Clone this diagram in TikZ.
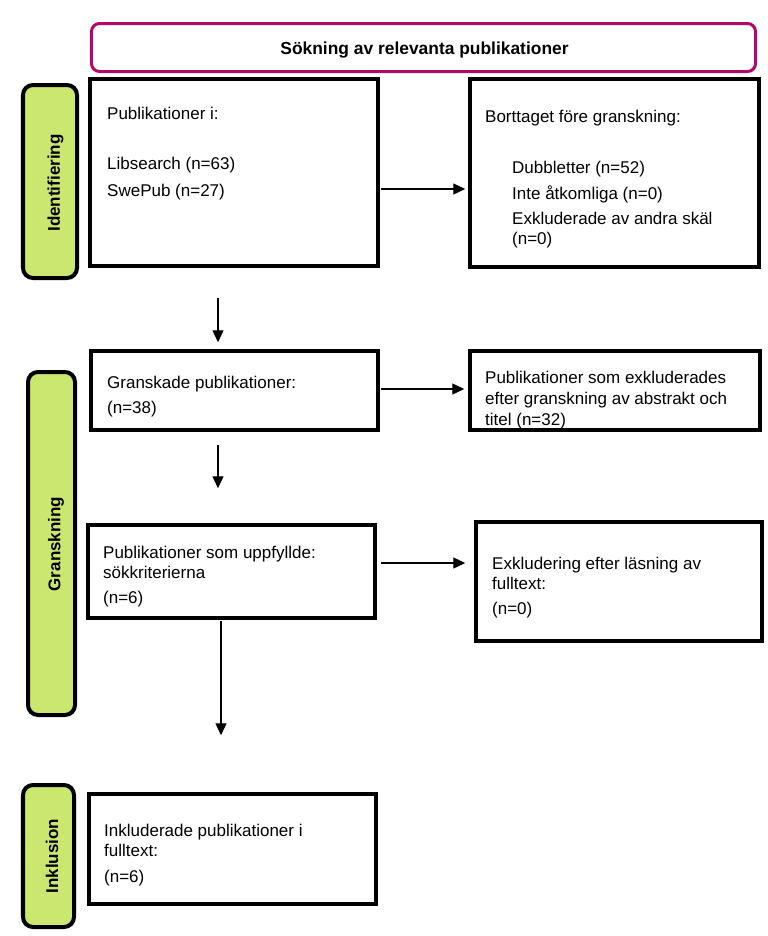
\documentclass[tikz,border=0pt]{standalone}
\usepackage{fontspec}
\setmainfont{Liberation Sans}
\usetikzlibrary{arrows.meta}
\definecolor{framemag}{RGB}{178,8,102}
\definecolor{phasegreen}{RGB}{204,231,112}
\tikzset{
  bodytext/.style={inner sep=0pt, anchor=base west, font=\fontsize{17bp}{20bp}\selectfont},
  titletext/.style={inner sep=0pt, anchor=base, font=\fontsize{17.4bp}{20bp}\selectfont\bfseries},
  phaselabel/.style={inner sep=0pt, rotate=90, font=\fontsize{17bp}{20bp}\selectfont\bfseries},
  stagebox/.style={draw=black, line width=3.5bp, rectangle, inner sep=0pt},
  titlebox/.style={draw=framemag, line width=3bp, rectangle, rounded corners=8bp, inner sep=0pt},
  phasebar/.style={draw=black, fill=phasegreen, line width=4bp, rectangle, rounded corners=10bp, inner sep=0pt},
  flowarrow/.style={line width=1.3bp, -{Triangle[length=12bp,width=11bp]}}
}
\begin{document}
\begin{tikzpicture}[x=1bp,y=-1bp]
\useasboundingbox (0,0) rectangle (768,936);

% title
\node[titlebox, minimum width=664bp, minimum height=48bp] (title) at (423.5,47.5) {};
\node[titletext] (titletxt) at (424.5,54) {Sökning av relevanta publikationer};

% phase bars
\node[phasebar, minimum width=54bp, minimum height=193bp] (barid) at (50,181.5) {};
\node[phaselabel] (labid) at (55.5,183) {Identifiering};
\node[phasebar, minimum width=47bp, minimum height=343bp] (bargr) at (51.5,543.5) {};
\node[phaselabel] (labgr) at (56,544) {Granskning};
\node[phasebar, minimum width=51bp, minimum height=142bp] (barin) at (48.5,856) {};
\node[phaselabel] (labin) at (52,856) {Inklusion};

% boxes
\node[stagebox, minimum width=288bp, minimum height=187bp] (b1) at (234,172.5) {};
\node[stagebox, minimum width=289bp, minimum height=188bp] (b2) at (614.5,173) {};
\node[stagebox, minimum width=287bp, minimum height=79bp] (g1) at (234.5,390.5) {};
\node[stagebox, minimum width=290bp, minimum height=79bp] (r2) at (615,390.5) {};
\node[stagebox, minimum width=287bp, minimum height=93bp] (u1) at (231.5,571.5) {};
\node[stagebox, minimum width=286bp, minimum height=119bp] (e1) at (619,581.5) {};
\node[stagebox, minimum width=287bp, minimum height=110bp] (i1) at (232.5,849) {};

% box texts
\node[bodytext] (b1a) at (107,119) {Publikationer i:};
\node[bodytext] (b1b) at (107,169) {Libsearch (n=63)};
\node[bodytext] (b1c) at (107,196) {SwePub (n=27)};

\node[bodytext] (b2a) at (485,122) {Borttaget före granskning:};
\node[bodytext] (b2b) at (512,173) {Dubbletter (n=52)};
\node[bodytext] (b2c) at (512,199) {Inte åtkomliga (n=0)};
\node[bodytext] (b2d) at (512,224) {Exkluderade av andra skäl};
\node[bodytext] (b2e) at (512,244) {(n=0)};

\node[bodytext] (g1a) at (107,388) {Granskade publikationer:};
\node[bodytext] (g1b) at (107,413) {(n=38)};

\begin{scope}
\clip (470,351) rectangle (760,427);
\node[bodytext] (r2a) at (485,383) {Publikationer som exkluderades};
\node[bodytext] (r2b) at (485,404) {efter granskning av abstrakt och};
\node[bodytext] (r2c) at (485,425) {titel (n=32)};
\end{scope}

\node[bodytext] (u1a) at (103,558) {Publikationer som uppfyllde:};
\node[bodytext] (u1b) at (103,578) {sökkriterierna};
\node[bodytext] (u1c) at (103,603) {(n=6)};

\node[bodytext] (e1a) at (492,569) {Exkludering efter läsning av};
\node[bodytext] (e1b) at (492,589) {fulltext:};
\node[bodytext] (e1c) at (492,614) {(n=0)};

\node[bodytext] (i1a) at (104,836) {Inkluderade publikationer i};
\node[bodytext] (i1b) at (104,856) {fulltext:};
\node[bodytext] (i1c) at (104,882) {(n=6)};

% connectors
\draw[flowarrow, shorten <=1bp, shorten >=3bp] (b1.east |- 0,189) -- (b2.west |- 0,189);
\draw[flowarrow, shorten <=30bp, shorten >=7bp] (b1.south -| 218,0) -- (g1.north -| 218,0);
\draw[flowarrow, shorten <=1bp, shorten >=4bp] (g1.east |- 0,389) -- (r2.west |- 0,389);
\draw[flowarrow, shorten <=13bp, shorten >=35bp] (g1.south -| 218,0) -- (u1.north -| 218,0);
\draw[flowarrow, shorten <=4bp, shorten >=9bp] (u1.east |- 0,563) -- (e1.west |- 0,563);
\draw[flowarrow, shorten <=1bp, shorten >=57bp] (u1.south -| 221,0) -- (i1.north -| 221,0);
\end{tikzpicture}
\end{document}
